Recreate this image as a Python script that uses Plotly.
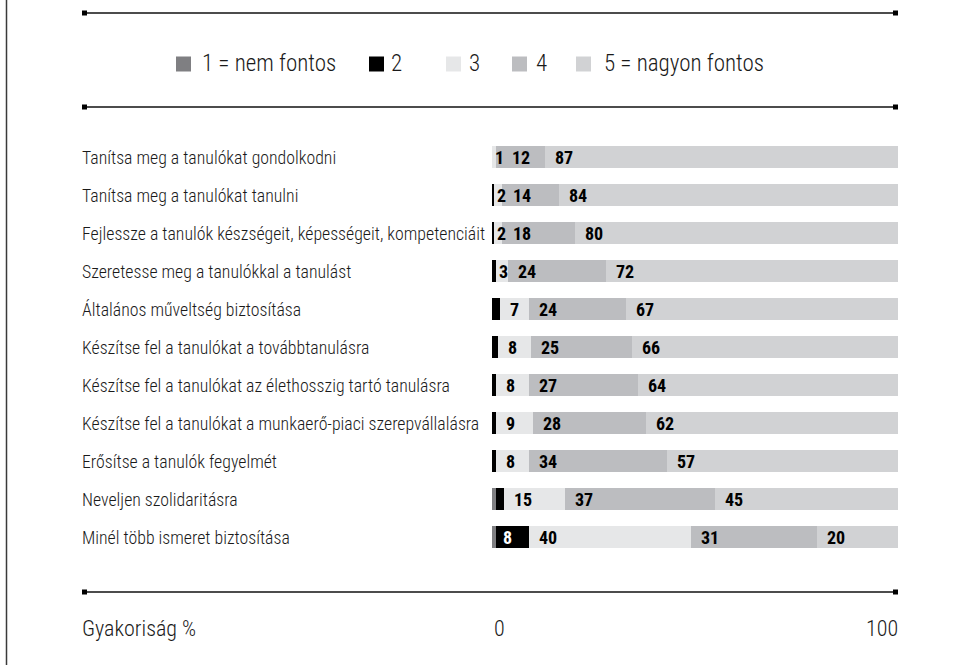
import plotly.graph_objects as go

# Survey items (top to bottom)
categories = [
    "Tanítsa meg a tanulókat gondolkodni",
    "Tanítsa meg a tanulókat tanulni",
    "Fejlessze a tanulók készségeit, képességeit, kompetenciáit",
    "Szeretesse meg a tanulókkal a tanulást",
    "Általános műveltség biztosítása",
    "Készítse fel a tanulókat a továbbtanulásra",
    "Készítse fel a tanulókat az élethosszig tartó tanulásra",
    "Készítse fel a tanulókat a munkaerő-piaci szerepvállalásra",
    "Erősítse a tanulók fegyelmét",
    "Neveljen szolidaritásra",
    "Minél több ismeret biztosítása",
]

# Share of answers (%) per importance level
level_1 = [0, 0, 0, 0, 0, 0, 0, 0, 0, 1, 1]
level_2 = [0, 0.4, 0.4, 1, 2, 1.5, 1, 1, 1, 2, 8]
level_3 = [1, 2, 2, 3, 7, 8, 8, 9, 8, 15, 40]
level_4 = [12, 14, 18, 24, 24, 25, 27, 28, 34, 37, 31]
level_5 = [87, 84, 80, 72, 67, 66, 64, 62, 57, 45, 20]

series_names = ["1 = nem fontos", "2", "3", "4", "5 = nagyon fontos"]
series_values = [level_1, level_2, level_3, level_4, level_5]
series_colors = ["#7f7f82", "#000000", "#e6e7e8", "#bcbdc0", "#d1d2d4"]

axis_title = "Gyakoriság %"
tick_labels = ["0", "100"]

W, H = 962, 665
X0_PX, X1_PX = 492, 898
Y_TOP_PX, Y_BOT_PX = 138, 556
PX_PER_UNIT = (X1_PX - X0_PX) / 100.0

FONT = "Roboto Condensed, Liberation Sans, Arial, sans-serif"
TEXT_COL = "#1a1a1a"

fig = go.Figure()
for name, vals, col in zip(series_names, series_values, series_colors):
    fig.add_trace(go.Bar(
        y=categories, x=vals, name=name, orientation="h",
        marker=dict(color=col, line=dict(width=0)),
        showlegend=False, hoverinfo="x+y+name",
    ))

annotations = []
shapes = []

# Value labels, placed at the left of each segment
for i, cat in enumerate(categories):
    base = 0.0
    prev_end = -1e9
    for k, vals in enumerate(series_values):
        v = vals[i]
        show = (k >= 2 and v >= 1) or v >= 5
        if show:
            txt = str(int(round(v)))
            start_px = base * PX_PER_UNIT
            off = 1 if v < 4 else (5 if k < 2 else 8)
            pos = max(start_px + off, prev_end + 8)
            prev_end = pos + len(txt) * 8.5
            annotations.append(dict(
                x=base, y=cat, xref="x", yref="y", xanchor="left", yanchor="middle",
                xshift=pos - start_px, text="<b>%s</b>" % txt, showarrow=False,
                font=dict(family=FONT, size=18,
                          color="#ffffff" if series_colors[k] == "#000000" else "#000000"),
            ))
        base += v

# Category labels on the left
for cat in categories:
    annotations.append(dict(
        x=80 / W, y=cat, xref="paper", yref="y", xanchor="left", yanchor="middle",
        text=cat, showarrow=False,
        font=dict(family=FONT, size=17.8, color=TEXT_COL, weight=300),
    ))

# Legend drawn as swatches + text
legend_sq_x = [176, 369, 446, 512, 576]
legend_txt_x = [200, 389, 467, 534, 602]
LEG_Y = 64
SQ = 15
for name, col, sx, tx in zip(series_names, series_colors, legend_sq_x, legend_txt_x):
    shapes.append(dict(type="rect", xref="paper", yref="paper",
                       x0=sx / W, x1=(sx + SQ) / W,
                       y0=1 - (LEG_Y + SQ / 2) / H, y1=1 - (LEG_Y - SQ / 2) / H,
                       fillcolor=col, line=dict(width=0)))
    annotations.append(dict(x=tx / W, y=1 - LEG_Y / H, xref="paper", yref="paper",
                            xanchor="left", yanchor="middle", text=name, showarrow=False,
                            font=dict(family=FONT, size=23, color=TEXT_COL, weight=300)))

# Horizontal rules with square end caps
for ly in [13, 107, 592]:
    shapes.append(dict(type="line", xref="paper", yref="paper",
                       x0=84 / W, x1=896 / W, y0=1 - ly / H, y1=1 - ly / H,
                       line=dict(color="#111111", width=1.6)))
    for cx in [82, 893]:
        shapes.append(dict(type="rect", xref="paper", yref="paper",
                           x0=cx / W, x1=(cx + 5) / W,
                           y0=1 - (ly + 2.5) / H, y1=1 - (ly - 2.5) / H,
                           fillcolor="#000000", line=dict(width=0)))

# Left frame line
shapes.append(dict(type="line", xref="paper", yref="paper",
                   x0=6.5 / W, x1=6.5 / W, y0=0, y1=1,
                   line=dict(color="#3a3a3a", width=1.5)))

# Axis title and end ticks
AX_Y = 628
axis_font = dict(family=FONT, size=22, color=TEXT_COL, weight=300)
annotations.append(dict(x=80 / W, y=1 - AX_Y / H, xref="paper", yref="paper",
                        xanchor="left", yanchor="middle", text=axis_title, showarrow=False,
                        font=axis_font))
annotations.append(dict(x=0, y=1 - AX_Y / H, xref="x", yref="paper",
                        xanchor="left", yanchor="middle", text=tick_labels[0], showarrow=False,
                        font=axis_font))
annotations.append(dict(x=100, y=1 - AX_Y / H, xref="x", yref="paper",
                        xanchor="right", yanchor="middle", text=tick_labels[1], showarrow=False,
                        xshift=2, font=axis_font))

fig.update_layout(
    width=W, height=H, margin=dict(l=0, r=0, t=0, b=0),
    paper_bgcolor="white", plot_bgcolor="white",
    barmode="stack", bargap=0.4,
    xaxis=dict(range=[0, 100], domain=[X0_PX / W, X1_PX / W], visible=False, fixedrange=True),
    yaxis=dict(type="category", categoryorder="array", categoryarray=categories,
               range=[len(categories) - 0.5, -0.5],
               domain=[1 - Y_BOT_PX / H, 1 - Y_TOP_PX / H], visible=False, fixedrange=True),
    annotations=annotations, shapes=shapes,
    font=dict(family=FONT),
)

fig.write_html("out.html")
